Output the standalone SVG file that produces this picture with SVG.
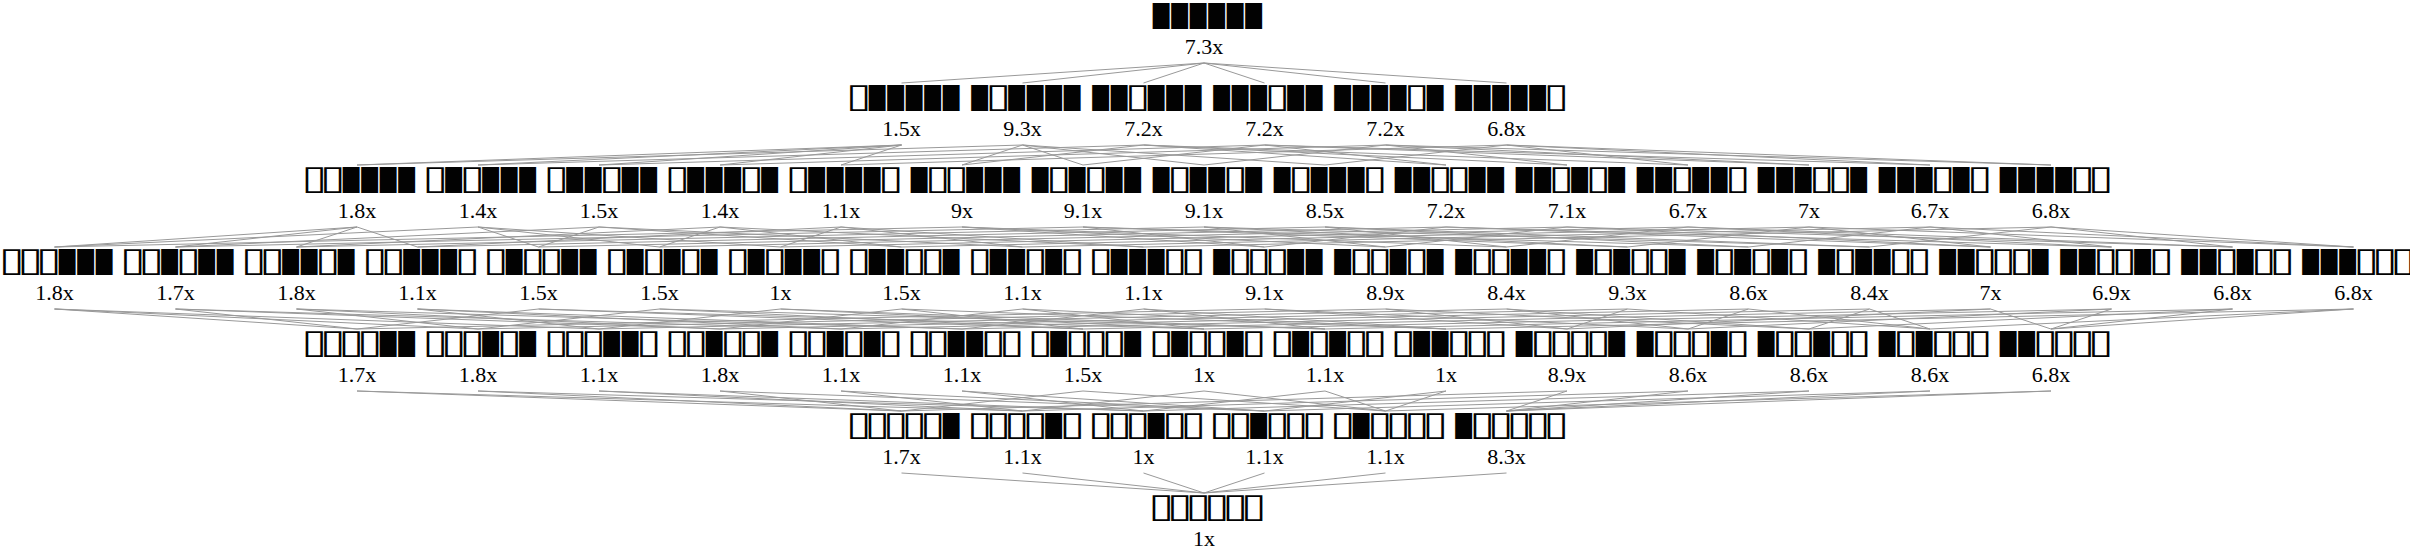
<svg xmlns="http://www.w3.org/2000/svg" width="2410" height="554" viewBox="0 0 2410 554">
<style>
.lbl{font-family:"DejaVu Sans",sans-serif;font-size:34px;letter-spacing:-5px;text-anchor:middle;fill:#000;opacity:0.99}
.num{font-family:"Liberation Serif","Times New Roman",serif;font-size:22px;text-anchor:middle;fill:#000}
.e line{stroke:#999;stroke-width:1;fill:none}
</style>
<rect width="2410" height="554" fill="#fff"/>
<g class="e" id="edges">
<line x1="1204" y1="63" x2="901.5" y2="83"/><line x1="1204" y1="63" x2="1022.5" y2="83"/><line x1="1204" y1="63" x2="1143.5" y2="83"/><line x1="1204" y1="63" x2="1264.5" y2="83"/><line x1="1204" y1="63" x2="1385.5" y2="83"/><line x1="1204" y1="63" x2="1506.5" y2="83"/>
<line x1="901.5" y1="145" x2="357" y2="165"/><line x1="901.5" y1="145" x2="478" y2="165"/><line x1="901.5" y1="145" x2="599" y2="165"/><line x1="901.5" y1="145" x2="720" y2="165"/><line x1="901.5" y1="145" x2="841" y2="165"/>
<line x1="1022.5" y1="145" x2="357" y2="165"/><line x1="1022.5" y1="145" x2="962" y2="165"/><line x1="1022.5" y1="145" x2="1083" y2="165"/><line x1="1022.5" y1="145" x2="1204" y2="165"/><line x1="1022.5" y1="145" x2="1325" y2="165"/>
<line x1="1143.5" y1="145" x2="478" y2="165"/><line x1="1143.5" y1="145" x2="962" y2="165"/><line x1="1143.5" y1="145" x2="1446" y2="165"/><line x1="1143.5" y1="145" x2="1567" y2="165"/><line x1="1143.5" y1="145" x2="1688" y2="165"/>
<line x1="1264.5" y1="145" x2="599" y2="165"/><line x1="1264.5" y1="145" x2="1083" y2="165"/><line x1="1264.5" y1="145" x2="1446" y2="165"/><line x1="1264.5" y1="145" x2="1809" y2="165"/><line x1="1264.5" y1="145" x2="1930" y2="165"/>
<line x1="1385.5" y1="145" x2="720" y2="165"/><line x1="1385.5" y1="145" x2="1204" y2="165"/><line x1="1385.5" y1="145" x2="1567" y2="165"/><line x1="1385.5" y1="145" x2="1809" y2="165"/><line x1="1385.5" y1="145" x2="2051" y2="165"/>
<line x1="1506.5" y1="145" x2="841" y2="165"/><line x1="1506.5" y1="145" x2="1325" y2="165"/><line x1="1506.5" y1="145" x2="1688" y2="165"/><line x1="1506.5" y1="145" x2="1930" y2="165"/><line x1="1506.5" y1="145" x2="2051" y2="165"/>
<line x1="357" y1="227" x2="54.5" y2="247"/><line x1="357" y1="227" x2="175.5" y2="247"/><line x1="357" y1="227" x2="296.5" y2="247"/><line x1="357" y1="227" x2="417.5" y2="247"/>
<line x1="478" y1="227" x2="54.5" y2="247"/><line x1="478" y1="227" x2="538.5" y2="247"/><line x1="478" y1="227" x2="659.5" y2="247"/><line x1="478" y1="227" x2="780.5" y2="247"/>
<line x1="599" y1="227" x2="175.5" y2="247"/><line x1="599" y1="227" x2="538.5" y2="247"/><line x1="599" y1="227" x2="901.5" y2="247"/><line x1="599" y1="227" x2="1022.5" y2="247"/>
<line x1="720" y1="227" x2="296.5" y2="247"/><line x1="720" y1="227" x2="659.5" y2="247"/><line x1="720" y1="227" x2="901.5" y2="247"/><line x1="720" y1="227" x2="1143.5" y2="247"/>
<line x1="841" y1="227" x2="417.5" y2="247"/><line x1="841" y1="227" x2="780.5" y2="247"/><line x1="841" y1="227" x2="1022.5" y2="247"/><line x1="841" y1="227" x2="1143.5" y2="247"/>
<line x1="962" y1="227" x2="54.5" y2="247"/><line x1="962" y1="227" x2="1264.5" y2="247"/><line x1="962" y1="227" x2="1385.5" y2="247"/><line x1="962" y1="227" x2="1506.5" y2="247"/>
<line x1="1083" y1="227" x2="175.5" y2="247"/><line x1="1083" y1="227" x2="1264.5" y2="247"/><line x1="1083" y1="227" x2="1627.5" y2="247"/><line x1="1083" y1="227" x2="1748.5" y2="247"/>
<line x1="1204" y1="227" x2="296.5" y2="247"/><line x1="1204" y1="227" x2="1385.5" y2="247"/><line x1="1204" y1="227" x2="1627.5" y2="247"/><line x1="1204" y1="227" x2="1869.5" y2="247"/>
<line x1="1325" y1="227" x2="417.5" y2="247"/><line x1="1325" y1="227" x2="1506.5" y2="247"/><line x1="1325" y1="227" x2="1748.5" y2="247"/><line x1="1325" y1="227" x2="1869.5" y2="247"/>
<line x1="1446" y1="227" x2="538.5" y2="247"/><line x1="1446" y1="227" x2="1264.5" y2="247"/><line x1="1446" y1="227" x2="1990.5" y2="247"/><line x1="1446" y1="227" x2="2111.5" y2="247"/>
<line x1="1567" y1="227" x2="659.5" y2="247"/><line x1="1567" y1="227" x2="1385.5" y2="247"/><line x1="1567" y1="227" x2="1990.5" y2="247"/><line x1="1567" y1="227" x2="2232.5" y2="247"/>
<line x1="1688" y1="227" x2="780.5" y2="247"/><line x1="1688" y1="227" x2="1506.5" y2="247"/><line x1="1688" y1="227" x2="2111.5" y2="247"/><line x1="1688" y1="227" x2="2232.5" y2="247"/>
<line x1="1809" y1="227" x2="901.5" y2="247"/><line x1="1809" y1="227" x2="1627.5" y2="247"/><line x1="1809" y1="227" x2="1990.5" y2="247"/><line x1="1809" y1="227" x2="2353.5" y2="247"/>
<line x1="1930" y1="227" x2="1022.5" y2="247"/><line x1="1930" y1="227" x2="1748.5" y2="247"/><line x1="1930" y1="227" x2="2111.5" y2="247"/><line x1="1930" y1="227" x2="2353.5" y2="247"/>
<line x1="2051" y1="227" x2="1143.5" y2="247"/><line x1="2051" y1="227" x2="1869.5" y2="247"/><line x1="2051" y1="227" x2="2232.5" y2="247"/><line x1="2051" y1="227" x2="2353.5" y2="247"/>
<line x1="54.5" y1="309" x2="357" y2="329"/><line x1="54.5" y1="309" x2="478" y2="329"/><line x1="54.5" y1="309" x2="599" y2="329"/>
<line x1="175.5" y1="309" x2="357" y2="329"/><line x1="175.5" y1="309" x2="720" y2="329"/><line x1="175.5" y1="309" x2="841" y2="329"/>
<line x1="296.5" y1="309" x2="478" y2="329"/><line x1="296.5" y1="309" x2="720" y2="329"/><line x1="296.5" y1="309" x2="962" y2="329"/>
<line x1="417.5" y1="309" x2="599" y2="329"/><line x1="417.5" y1="309" x2="841" y2="329"/><line x1="417.5" y1="309" x2="962" y2="329"/>
<line x1="538.5" y1="309" x2="357" y2="329"/><line x1="538.5" y1="309" x2="1083" y2="329"/><line x1="538.5" y1="309" x2="1204" y2="329"/>
<line x1="659.5" y1="309" x2="478" y2="329"/><line x1="659.5" y1="309" x2="1083" y2="329"/><line x1="659.5" y1="309" x2="1325" y2="329"/>
<line x1="780.5" y1="309" x2="599" y2="329"/><line x1="780.5" y1="309" x2="1204" y2="329"/><line x1="780.5" y1="309" x2="1325" y2="329"/>
<line x1="901.5" y1="309" x2="720" y2="329"/><line x1="901.5" y1="309" x2="1083" y2="329"/><line x1="901.5" y1="309" x2="1446" y2="329"/>
<line x1="1022.5" y1="309" x2="841" y2="329"/><line x1="1022.5" y1="309" x2="1204" y2="329"/><line x1="1022.5" y1="309" x2="1446" y2="329"/>
<line x1="1143.5" y1="309" x2="962" y2="329"/><line x1="1143.5" y1="309" x2="1325" y2="329"/><line x1="1143.5" y1="309" x2="1446" y2="329"/>
<line x1="1264.5" y1="309" x2="357" y2="329"/><line x1="1264.5" y1="309" x2="1567" y2="329"/><line x1="1264.5" y1="309" x2="1688" y2="329"/>
<line x1="1385.5" y1="309" x2="478" y2="329"/><line x1="1385.5" y1="309" x2="1567" y2="329"/><line x1="1385.5" y1="309" x2="1809" y2="329"/>
<line x1="1506.5" y1="309" x2="599" y2="329"/><line x1="1506.5" y1="309" x2="1688" y2="329"/><line x1="1506.5" y1="309" x2="1809" y2="329"/>
<line x1="1627.5" y1="309" x2="720" y2="329"/><line x1="1627.5" y1="309" x2="1567" y2="329"/><line x1="1627.5" y1="309" x2="1930" y2="329"/>
<line x1="1748.5" y1="309" x2="841" y2="329"/><line x1="1748.5" y1="309" x2="1688" y2="329"/><line x1="1748.5" y1="309" x2="1930" y2="329"/>
<line x1="1869.5" y1="309" x2="962" y2="329"/><line x1="1869.5" y1="309" x2="1809" y2="329"/><line x1="1869.5" y1="309" x2="1930" y2="329"/>
<line x1="1990.5" y1="309" x2="1083" y2="329"/><line x1="1990.5" y1="309" x2="1567" y2="329"/><line x1="1990.5" y1="309" x2="2051" y2="329"/>
<line x1="2111.5" y1="309" x2="1204" y2="329"/><line x1="2111.5" y1="309" x2="1688" y2="329"/><line x1="2111.5" y1="309" x2="2051" y2="329"/>
<line x1="2232.5" y1="309" x2="1325" y2="329"/><line x1="2232.5" y1="309" x2="1809" y2="329"/><line x1="2232.5" y1="309" x2="2051" y2="329"/>
<line x1="2353.5" y1="309" x2="1446" y2="329"/><line x1="2353.5" y1="309" x2="1930" y2="329"/><line x1="2353.5" y1="309" x2="2051" y2="329"/>
<line x1="357" y1="391" x2="901.5" y2="411"/><line x1="357" y1="391" x2="1022.5" y2="411"/>
<line x1="478" y1="391" x2="901.5" y2="411"/><line x1="478" y1="391" x2="1143.5" y2="411"/>
<line x1="599" y1="391" x2="1022.5" y2="411"/><line x1="599" y1="391" x2="1143.5" y2="411"/>
<line x1="720" y1="391" x2="901.5" y2="411"/><line x1="720" y1="391" x2="1264.5" y2="411"/>
<line x1="841" y1="391" x2="1022.5" y2="411"/><line x1="841" y1="391" x2="1264.5" y2="411"/>
<line x1="962" y1="391" x2="1143.5" y2="411"/><line x1="962" y1="391" x2="1264.5" y2="411"/>
<line x1="1083" y1="391" x2="901.5" y2="411"/><line x1="1083" y1="391" x2="1385.5" y2="411"/>
<line x1="1204" y1="391" x2="1022.5" y2="411"/><line x1="1204" y1="391" x2="1385.5" y2="411"/>
<line x1="1325" y1="391" x2="1143.5" y2="411"/><line x1="1325" y1="391" x2="1385.5" y2="411"/>
<line x1="1446" y1="391" x2="1264.5" y2="411"/><line x1="1446" y1="391" x2="1385.5" y2="411"/>
<line x1="1567" y1="391" x2="901.5" y2="411"/><line x1="1567" y1="391" x2="1506.5" y2="411"/>
<line x1="1688" y1="391" x2="1022.5" y2="411"/><line x1="1688" y1="391" x2="1506.5" y2="411"/>
<line x1="1809" y1="391" x2="1143.5" y2="411"/><line x1="1809" y1="391" x2="1506.5" y2="411"/>
<line x1="1930" y1="391" x2="1264.5" y2="411"/><line x1="1930" y1="391" x2="1506.5" y2="411"/>
<line x1="2051" y1="391" x2="1385.5" y2="411"/><line x1="2051" y1="391" x2="1506.5" y2="411"/>
<line x1="901.5" y1="473" x2="1204" y2="493"/><line x1="1022.5" y1="473" x2="1204" y2="493"/><line x1="1143.5" y1="473" x2="1204" y2="493"/><line x1="1264.5" y1="473" x2="1204" y2="493"/><line x1="1385.5" y1="473" x2="1204" y2="493"/><line x1="1506.5" y1="473" x2="1204" y2="493"/>
</g>
<g id="n111111"><text class="lbl" x="1204" y="25" textLength="111" lengthAdjust="spacingAndGlyphs">▮▮▮▮▮▮</text><text class="num" x="1204" y="54">7.3x</text></g>
<g id="n011111"><text class="lbl" x="901.5" y="107" textLength="111" lengthAdjust="spacingAndGlyphs">▯▮▮▮▮▮</text><text class="num" x="901.5" y="136">1.5x</text></g>
<g id="n101111"><text class="lbl" x="1022.5" y="107" textLength="111" lengthAdjust="spacingAndGlyphs">▮▯▮▮▮▮</text><text class="num" x="1022.5" y="136">9.3x</text></g>
<g id="n110111"><text class="lbl" x="1143.5" y="107" textLength="111" lengthAdjust="spacingAndGlyphs">▮▮▯▮▮▮</text><text class="num" x="1143.5" y="136">7.2x</text></g>
<g id="n111011"><text class="lbl" x="1264.5" y="107" textLength="111" lengthAdjust="spacingAndGlyphs">▮▮▮▯▮▮</text><text class="num" x="1264.5" y="136">7.2x</text></g>
<g id="n111101"><text class="lbl" x="1385.5" y="107" textLength="111" lengthAdjust="spacingAndGlyphs">▮▮▮▮▯▮</text><text class="num" x="1385.5" y="136">7.2x</text></g>
<g id="n111110"><text class="lbl" x="1506.5" y="107" textLength="111" lengthAdjust="spacingAndGlyphs">▮▮▮▮▮▯</text><text class="num" x="1506.5" y="136">6.8x</text></g>
<g id="n001111"><text class="lbl" x="357" y="189" textLength="111" lengthAdjust="spacingAndGlyphs">▯▯▮▮▮▮</text><text class="num" x="357" y="218">1.8x</text></g>
<g id="n010111"><text class="lbl" x="478" y="189" textLength="111" lengthAdjust="spacingAndGlyphs">▯▮▯▮▮▮</text><text class="num" x="478" y="218">1.4x</text></g>
<g id="n011011"><text class="lbl" x="599" y="189" textLength="111" lengthAdjust="spacingAndGlyphs">▯▮▮▯▮▮</text><text class="num" x="599" y="218">1.5x</text></g>
<g id="n011101"><text class="lbl" x="720" y="189" textLength="111" lengthAdjust="spacingAndGlyphs">▯▮▮▮▯▮</text><text class="num" x="720" y="218">1.4x</text></g>
<g id="n011110"><text class="lbl" x="841" y="189" textLength="111" lengthAdjust="spacingAndGlyphs">▯▮▮▮▮▯</text><text class="num" x="841" y="218">1.1x</text></g>
<g id="n100111"><text class="lbl" x="962" y="189" textLength="111" lengthAdjust="spacingAndGlyphs">▮▯▯▮▮▮</text><text class="num" x="962" y="218">9x</text></g>
<g id="n101011"><text class="lbl" x="1083" y="189" textLength="111" lengthAdjust="spacingAndGlyphs">▮▯▮▯▮▮</text><text class="num" x="1083" y="218">9.1x</text></g>
<g id="n101101"><text class="lbl" x="1204" y="189" textLength="111" lengthAdjust="spacingAndGlyphs">▮▯▮▮▯▮</text><text class="num" x="1204" y="218">9.1x</text></g>
<g id="n101110"><text class="lbl" x="1325" y="189" textLength="111" lengthAdjust="spacingAndGlyphs">▮▯▮▮▮▯</text><text class="num" x="1325" y="218">8.5x</text></g>
<g id="n110011"><text class="lbl" x="1446" y="189" textLength="111" lengthAdjust="spacingAndGlyphs">▮▮▯▯▮▮</text><text class="num" x="1446" y="218">7.2x</text></g>
<g id="n110101"><text class="lbl" x="1567" y="189" textLength="111" lengthAdjust="spacingAndGlyphs">▮▮▯▮▯▮</text><text class="num" x="1567" y="218">7.1x</text></g>
<g id="n110110"><text class="lbl" x="1688" y="189" textLength="111" lengthAdjust="spacingAndGlyphs">▮▮▯▮▮▯</text><text class="num" x="1688" y="218">6.7x</text></g>
<g id="n111001"><text class="lbl" x="1809" y="189" textLength="111" lengthAdjust="spacingAndGlyphs">▮▮▮▯▯▮</text><text class="num" x="1809" y="218">7x</text></g>
<g id="n111010"><text class="lbl" x="1930" y="189" textLength="111" lengthAdjust="spacingAndGlyphs">▮▮▮▯▮▯</text><text class="num" x="1930" y="218">6.7x</text></g>
<g id="n111100"><text class="lbl" x="2051" y="189" textLength="111" lengthAdjust="spacingAndGlyphs">▮▮▮▮▯▯</text><text class="num" x="2051" y="218">6.8x</text></g>
<g id="n000111"><text class="lbl" x="54.5" y="271" textLength="111" lengthAdjust="spacingAndGlyphs">▯▯▯▮▮▮</text><text class="num" x="54.5" y="300">1.8x</text></g>
<g id="n001011"><text class="lbl" x="175.5" y="271" textLength="111" lengthAdjust="spacingAndGlyphs">▯▯▮▯▮▮</text><text class="num" x="175.5" y="300">1.7x</text></g>
<g id="n001101"><text class="lbl" x="296.5" y="271" textLength="111" lengthAdjust="spacingAndGlyphs">▯▯▮▮▯▮</text><text class="num" x="296.5" y="300">1.8x</text></g>
<g id="n001110"><text class="lbl" x="417.5" y="271" textLength="111" lengthAdjust="spacingAndGlyphs">▯▯▮▮▮▯</text><text class="num" x="417.5" y="300">1.1x</text></g>
<g id="n010011"><text class="lbl" x="538.5" y="271" textLength="111" lengthAdjust="spacingAndGlyphs">▯▮▯▯▮▮</text><text class="num" x="538.5" y="300">1.5x</text></g>
<g id="n010101"><text class="lbl" x="659.5" y="271" textLength="111" lengthAdjust="spacingAndGlyphs">▯▮▯▮▯▮</text><text class="num" x="659.5" y="300">1.5x</text></g>
<g id="n010110"><text class="lbl" x="780.5" y="271" textLength="111" lengthAdjust="spacingAndGlyphs">▯▮▯▮▮▯</text><text class="num" x="780.5" y="300">1x</text></g>
<g id="n011001"><text class="lbl" x="901.5" y="271" textLength="111" lengthAdjust="spacingAndGlyphs">▯▮▮▯▯▮</text><text class="num" x="901.5" y="300">1.5x</text></g>
<g id="n011010"><text class="lbl" x="1022.5" y="271" textLength="111" lengthAdjust="spacingAndGlyphs">▯▮▮▯▮▯</text><text class="num" x="1022.5" y="300">1.1x</text></g>
<g id="n011100"><text class="lbl" x="1143.5" y="271" textLength="111" lengthAdjust="spacingAndGlyphs">▯▮▮▮▯▯</text><text class="num" x="1143.5" y="300">1.1x</text></g>
<g id="n100011"><text class="lbl" x="1264.5" y="271" textLength="111" lengthAdjust="spacingAndGlyphs">▮▯▯▯▮▮</text><text class="num" x="1264.5" y="300">9.1x</text></g>
<g id="n100101"><text class="lbl" x="1385.5" y="271" textLength="111" lengthAdjust="spacingAndGlyphs">▮▯▯▮▯▮</text><text class="num" x="1385.5" y="300">8.9x</text></g>
<g id="n100110"><text class="lbl" x="1506.5" y="271" textLength="111" lengthAdjust="spacingAndGlyphs">▮▯▯▮▮▯</text><text class="num" x="1506.5" y="300">8.4x</text></g>
<g id="n101001"><text class="lbl" x="1627.5" y="271" textLength="111" lengthAdjust="spacingAndGlyphs">▮▯▮▯▯▮</text><text class="num" x="1627.5" y="300">9.3x</text></g>
<g id="n101010"><text class="lbl" x="1748.5" y="271" textLength="111" lengthAdjust="spacingAndGlyphs">▮▯▮▯▮▯</text><text class="num" x="1748.5" y="300">8.6x</text></g>
<g id="n101100"><text class="lbl" x="1869.5" y="271" textLength="111" lengthAdjust="spacingAndGlyphs">▮▯▮▮▯▯</text><text class="num" x="1869.5" y="300">8.4x</text></g>
<g id="n110001"><text class="lbl" x="1990.5" y="271" textLength="111" lengthAdjust="spacingAndGlyphs">▮▮▯▯▯▮</text><text class="num" x="1990.5" y="300">7x</text></g>
<g id="n110010"><text class="lbl" x="2111.5" y="271" textLength="111" lengthAdjust="spacingAndGlyphs">▮▮▯▯▮▯</text><text class="num" x="2111.5" y="300">6.9x</text></g>
<g id="n110100"><text class="lbl" x="2232.5" y="271" textLength="111" lengthAdjust="spacingAndGlyphs">▮▮▯▮▯▯</text><text class="num" x="2232.5" y="300">6.8x</text></g>
<g id="n111000"><text class="lbl" x="2353.5" y="271" textLength="111" lengthAdjust="spacingAndGlyphs">▮▮▮▯▯▯</text><text class="num" x="2353.5" y="300">6.8x</text></g>
<g id="n000011"><text class="lbl" x="357" y="353" textLength="111" lengthAdjust="spacingAndGlyphs">▯▯▯▯▮▮</text><text class="num" x="357" y="382">1.7x</text></g>
<g id="n000101"><text class="lbl" x="478" y="353" textLength="111" lengthAdjust="spacingAndGlyphs">▯▯▯▮▯▮</text><text class="num" x="478" y="382">1.8x</text></g>
<g id="n000110"><text class="lbl" x="599" y="353" textLength="111" lengthAdjust="spacingAndGlyphs">▯▯▯▮▮▯</text><text class="num" x="599" y="382">1.1x</text></g>
<g id="n001001"><text class="lbl" x="720" y="353" textLength="111" lengthAdjust="spacingAndGlyphs">▯▯▮▯▯▮</text><text class="num" x="720" y="382">1.8x</text></g>
<g id="n001010"><text class="lbl" x="841" y="353" textLength="111" lengthAdjust="spacingAndGlyphs">▯▯▮▯▮▯</text><text class="num" x="841" y="382">1.1x</text></g>
<g id="n001100"><text class="lbl" x="962" y="353" textLength="111" lengthAdjust="spacingAndGlyphs">▯▯▮▮▯▯</text><text class="num" x="962" y="382">1.1x</text></g>
<g id="n010001"><text class="lbl" x="1083" y="353" textLength="111" lengthAdjust="spacingAndGlyphs">▯▮▯▯▯▮</text><text class="num" x="1083" y="382">1.5x</text></g>
<g id="n010010"><text class="lbl" x="1204" y="353" textLength="111" lengthAdjust="spacingAndGlyphs">▯▮▯▯▮▯</text><text class="num" x="1204" y="382">1x</text></g>
<g id="n010100"><text class="lbl" x="1325" y="353" textLength="111" lengthAdjust="spacingAndGlyphs">▯▮▯▮▯▯</text><text class="num" x="1325" y="382">1.1x</text></g>
<g id="n011000"><text class="lbl" x="1446" y="353" textLength="111" lengthAdjust="spacingAndGlyphs">▯▮▮▯▯▯</text><text class="num" x="1446" y="382">1x</text></g>
<g id="n100001"><text class="lbl" x="1567" y="353" textLength="111" lengthAdjust="spacingAndGlyphs">▮▯▯▯▯▮</text><text class="num" x="1567" y="382">8.9x</text></g>
<g id="n100010"><text class="lbl" x="1688" y="353" textLength="111" lengthAdjust="spacingAndGlyphs">▮▯▯▯▮▯</text><text class="num" x="1688" y="382">8.6x</text></g>
<g id="n100100"><text class="lbl" x="1809" y="353" textLength="111" lengthAdjust="spacingAndGlyphs">▮▯▯▮▯▯</text><text class="num" x="1809" y="382">8.6x</text></g>
<g id="n101000"><text class="lbl" x="1930" y="353" textLength="111" lengthAdjust="spacingAndGlyphs">▮▯▮▯▯▯</text><text class="num" x="1930" y="382">8.6x</text></g>
<g id="n110000"><text class="lbl" x="2051" y="353" textLength="111" lengthAdjust="spacingAndGlyphs">▮▮▯▯▯▯</text><text class="num" x="2051" y="382">6.8x</text></g>
<g id="n000001"><text class="lbl" x="901.5" y="435" textLength="111" lengthAdjust="spacingAndGlyphs">▯▯▯▯▯▮</text><text class="num" x="901.5" y="464">1.7x</text></g>
<g id="n000010"><text class="lbl" x="1022.5" y="435" textLength="111" lengthAdjust="spacingAndGlyphs">▯▯▯▯▮▯</text><text class="num" x="1022.5" y="464">1.1x</text></g>
<g id="n000100"><text class="lbl" x="1143.5" y="435" textLength="111" lengthAdjust="spacingAndGlyphs">▯▯▯▮▯▯</text><text class="num" x="1143.5" y="464">1x</text></g>
<g id="n001000"><text class="lbl" x="1264.5" y="435" textLength="111" lengthAdjust="spacingAndGlyphs">▯▯▮▯▯▯</text><text class="num" x="1264.5" y="464">1.1x</text></g>
<g id="n010000"><text class="lbl" x="1385.5" y="435" textLength="111" lengthAdjust="spacingAndGlyphs">▯▮▯▯▯▯</text><text class="num" x="1385.5" y="464">1.1x</text></g>
<g id="n100000"><text class="lbl" x="1506.5" y="435" textLength="111" lengthAdjust="spacingAndGlyphs">▮▯▯▯▯▯</text><text class="num" x="1506.5" y="464">8.3x</text></g>
<g id="n000000"><text class="lbl" x="1204" y="517" textLength="111" lengthAdjust="spacingAndGlyphs">▯▯▯▯▯▯</text><text class="num" x="1204" y="546">1x</text></g>
</svg>
